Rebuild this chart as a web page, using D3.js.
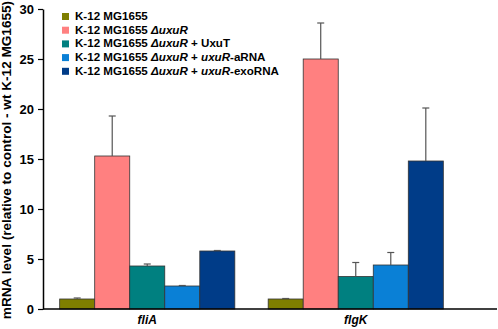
<!DOCTYPE html>
<html>
<head>
<meta charset="utf-8">
<script src="https://cdn.jsdelivr.net/npm/d3@7"></script>
<style>
  body { margin: 0; background: #fff; }
</style>
</head>
<body>
<div class="chart"></div>
<script>
// ======= DATA =======
const genes = ['fliA', 'flgK']
const strains = ['wt', 'dUxuR', 'uxuT', 'aRNA', 'exoRNA']
const fliA = [1.0, 15.3, 4.3, 2.3, 5.8]
const fliAErr = [0.1, 4.0, 0.2, 0.05, 0.05]
const flgK = [1.0, 25.0, 3.25, 4.4, 14.8]
const flgKErr = [0.05, 3.6, 1.4, 1.25, 5.3]
const yTicks = [0, 5, 10, 15, 20, 25, 30]
const colors = ['#7f7f00', '#ff8080', '#008080', '#0a80d6', '#003c88']
// legend labels as [text, italic] parts
const legendParts = [
  [['K-12 MG1655', false]],
  [['K-12 MG1655 ', false], ['ΔuxuR', true]],
  [['K-12 MG1655 ', false], ['ΔuxuR', true], [' + UxuT', false]],
  [['K-12 MG1655 ', false], ['ΔuxuR', true], [' + ', false], ['uxuR', true], ['-aRNA', false]],
  [['K-12 MG1655 ', false], ['ΔuxuR', true], [' + ', false], ['uxuR', true], ['-exoRNA', false]]
]

const values = { fliA: fliA, flgK: flgK }
const errors = { fliA: fliAErr, flgK: flgKErr }

const margin = { top: 9, right: 1, bottom: 20, left: 43 }
const width = 498 - margin.left - margin.right
const height = 329 - margin.top - margin.bottom

const svg = d3.select('.chart')
  .append('svg')
    .attr('width', 498)
    .attr('height', 329)
    .attr('font-family', 'Arial, "Liberation Sans", Helvetica, sans-serif')
    .attr('font-weight', 'bold')
  .append('g')
    .attr('transform', `translate(${margin.left}, ${margin.top})`)

const yScale = d3.scaleLinear()
  .domain([0, 30])
  .range([height, 0])

const xScale = d3.scaleBand()
  .domain(genes)
  .range([0, 417])
  .paddingInner(0.16)
  .paddingOuter(0.08)

const xInner = d3.scaleBand()
  .domain(strains)
  .range([0, xScale.bandwidth()])

// y axis
const yAxis = d3.axisLeft(yScale).tickValues(yTicks).tickSize(5).tickSizeOuter(0)
const gy = svg.append('g').call(yAxis)
gy.attr('font-family', null).attr('font-size', null)
gy.select('.domain').attr('stroke', '#000').attr('stroke-width', 1.5)
gy.selectAll('.tick line').attr('stroke', '#000').attr('stroke-width', 1.2)
gy.selectAll('.tick text')
  .attr('x', -9)
  .attr('font-size', 13)
  .attr('fill', '#000')

// y label
svg.append('text')
  .attr('transform', `translate(${-32}, ${height / 2 + 1}) rotate(-90)`)
  .attr('text-anchor', 'middle')
  .attr('font-size', 13.6)
  .text('mRNA level (relative to control - wt K-12 MG1655)')

// bars
const groups = svg.selectAll('.gene')
  .data(genes)
  .enter()
  .append('g')
    .attr('transform', d => `translate(${xScale(d)}, 0)`)

groups.selectAll('rect')
  .data(g => values[g].map((v, i) => ({ v, e: errors[g][i], s: strains[i], i })))
  .enter()
  .append('rect')
    .attr('x', d => xInner(d.s))
    .attr('width', xInner.bandwidth())
    .attr('y', d => yScale(d.v))
    .attr('height', d => height - yScale(d.v))
    .attr('fill', d => colors[d.i])
    .attr('stroke', '#333')
    .attr('stroke-width', 0.8)

// error bars (upper only)
const err = groups.selectAll('.err')
  .data(g => values[g].map((v, i) => ({ v, e: errors[g][i], s: strains[i] })))
  .enter()
  .append('g')
    .attr('class', 'err')
    .attr('stroke', '#555')
    .attr('stroke-width', 1.2)

err.append('line')
  .attr('x1', d => xInner(d.s) + xInner.bandwidth() / 2)
  .attr('x2', d => xInner(d.s) + xInner.bandwidth() / 2)
  .attr('y1', d => yScale(d.v))
  .attr('y2', d => yScale(d.v + d.e))
err.append('line')
  .attr('x1', d => xInner(d.s) + xInner.bandwidth() / 2 - 3.5)
  .attr('x2', d => xInner(d.s) + xInner.bandwidth() / 2 + 3.5)
  .attr('y1', d => yScale(d.v + d.e))
  .attr('y2', d => yScale(d.v + d.e))

// x axis line across the whole plot
svg.append('line')
  .attr('x1', 0)
  .attr('x2', width)
  .attr('y1', height)
  .attr('y2', height)
  .attr('stroke', '#000')
  .attr('stroke-width', 1.5)

// category labels
svg.selectAll('.cat')
  .data(genes)
  .enter()
  .append('text')
    .attr('x', d => xScale(d) + xScale.bandwidth() / 2)
    .attr('y', height + 15)
    .attr('text-anchor', 'middle')
    .attr('font-size', 12)
    .attr('font-style', 'italic')
    .text(d => d)

// legend
const legend = svg.append('g')
  .attr('transform', 'translate(19, 0)')

const items = legend.selectAll('.item')
  .data(legendParts)
  .enter()
  .append('g')
    .attr('transform', (d, i) => `translate(0, ${7 + i * 13.7})`)

items.append('rect')
  .attr('x', 0)
  .attr('y', -3)
  .attr('width', 7)
  .attr('height', 7)
  .attr('fill', (d, i) => colors[i])

const txt = items.append('text')
  .attr('x', 13)
  .attr('dy', '0.35em')
  .attr('font-size', 11.6)

txt.selectAll('tspan')
  .data(d => d)
  .enter()
  .append('tspan')
    .attr('font-style', d => d[1] ? 'italic' : 'normal')
    .text(d => d[0])
</script>
</body>
</html>
